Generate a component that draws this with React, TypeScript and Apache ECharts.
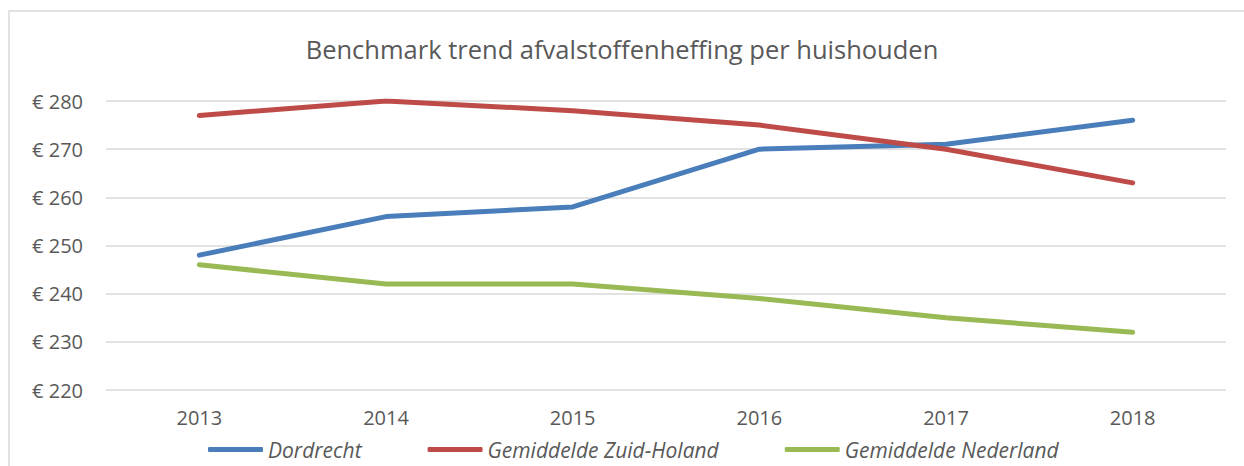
import React, { useEffect, useRef } from "react";
import * as echarts from "echarts";

const years = ["2013", "2014", "2015", "2016", "2017", "2018"];
const dordrecht = [248, 256, 258, 270, 271, 276];
const zuidHolland = [277, 280, 278, 275, 270, 263];
const nederland = [246, 242, 242, 239, 235, 232];
const seriesNames = ["Dordrecht", "Gemiddelde Zuid-Holand", "Gemiddelde Nederland"];
const colors = ["#4a7ebb", "#be4b48", "#98b954"];

export default function App() {
  const ref = useRef<HTMLDivElement>(null);
  useEffect(() => {
    if (!ref.current) return;
    const chart = echarts.init(ref.current, null, { renderer: "svg" });
    const font = "'Open Sans', sans-serif";
    const mk = (name: string, data: number[], color: string) => ({
      name,
      type: "line",
      data,
      symbol: "none",
      lineStyle: { color, width: 5, cap: "round", join: "round" },
      itemStyle: { color },
    });
    chart.setOption({
      animation: false,
      textStyle: { fontFamily: font },
      graphic: [
        {
          type: "rect",
          shape: { x: 9, y: 11, width: 1240, height: 470 },
          style: { fill: "none", stroke: "#d9d9d9", lineWidth: 1.5 },
          silent: true,
        },
      ],
      title: {
        text: "Benchmark trend afvalstoffenheffing per huishouden",
        left: "center",
        top: 31,
        textStyle: { fontFamily: font, fontSize: 25.5, fontWeight: "normal", color: "#595959" },
      },
      legend: {
        top: 434,
        left: 203,
        itemWidth: 55,
        itemHeight: 5,
        itemGap: 66,
        icon: "roundRect",
        data: seriesNames,
        textStyle: { fontFamily: font, fontSize: 21, fontStyle: "italic", color: "#595959" },
      },
      grid: { left: 106, right: 18, top: 101, bottom: 76, containLabel: false },
      xAxis: {
        type: "category",
        data: years,
        boundaryGap: true,
        axisLine: { show: false },
        axisTick: { show: false },
        axisLabel: { fontFamily: font, fontSize: 20, color: "#595959", margin: 17 },
      },
      yAxis: {
        type: "value",
        min: 220,
        max: 280,
        interval: 10,
        axisLine: { show: false },
        axisTick: { show: false },
        splitLine: { lineStyle: { color: "#d9d9d9", width: 1.5 } },
        axisLabel: {
          fontFamily: font,
          fontSize: 20,
          color: "#595959",
          margin: 23,
          formatter: (v: number) => "€ " + v,
        },
      },
      series: [
        mk(seriesNames[0], dordrecht, colors[0]),
        mk(seriesNames[1], zuidHolland, colors[1]),
        mk(seriesNames[2], nederland, colors[2]),
      ],
    });
    return () => chart.dispose();
  }, []);
  return (
    <div
      ref={ref}
      style={{ position: "absolute", left: 0, top: 0, width: 1244, height: 466, background: "#fff" }}
    />
  );
}
